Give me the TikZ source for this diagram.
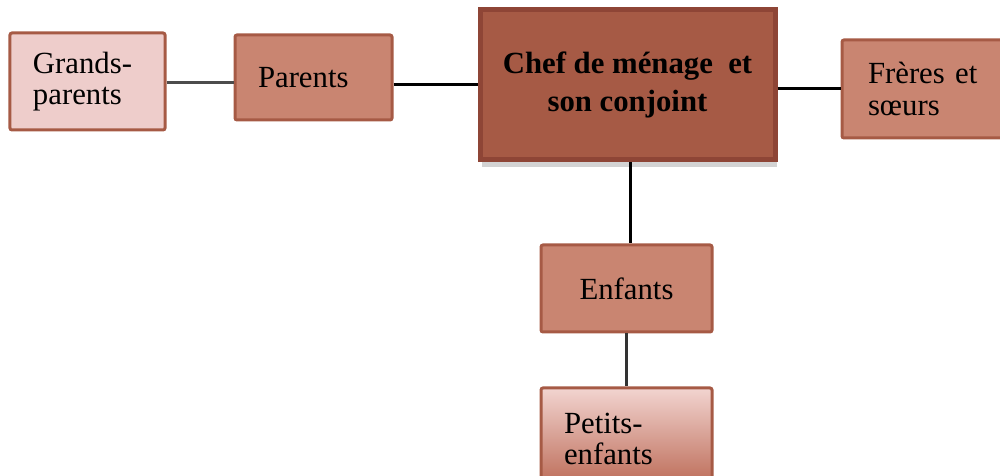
\documentclass[tikz,border=0pt]{standalone}
\usepackage{fontspec}
\setmainfont{Liberation Serif}
\usetikzlibrary{shadows}
\definecolor{brick}{HTML}{A65A45}
\definecolor{brickdark}{HTML}{8E4536}
\definecolor{salmon}{HTML}{C98571}
\definecolor{rose}{HTML}{EECDCB}
\definecolor{roseedge}{HTML}{F2D4D0}
\definecolor{rosedeep}{HTML}{BA6752}
\begin{document}
\begin{tikzpicture}[x=0.2mm,y=-0.2mm,
  box/.style={draw=brick,line width=0.6mm,rounded corners=0.4mm,fill=salmon,
    font=\fontsize{17.5}{18}\selectfont,inner xsep=4.6mm,inner ysep=0pt,align=left},
  link/.style={line width=0.6mm,black}]
\useasboundingbox (0,0) rectangle (1000,476);
\draw (87.5,81.5) node (gp) [box,fill=rose,text width=21.8mm,minimum height=19.4mm] {Grands-\\parents};
\draw (313.5,77.5) node (par) [box,text width=22.2mm,minimum height=17mm] {Parents};
\draw (627.5,85) node (chef) [box,draw=brickdark,line width=1mm,rounded corners=0pt,fill=brick,
  drop shadow={opacity=0.35,shadow xshift=0.4mm,shadow yshift=-1.4mm},
  font=\bfseries\fontsize{17.5}{22}\selectfont,align=center,inner xsep=0pt,minimum width=59mm,minimum height=30mm]
  {Chef de ménage~ et\\son conjoint};
\draw (926,89) node (fr) [box,inner xsep=5.2mm,text width=23.2mm,minimum height=19.6mm] {Frères et\\sœurs};
\draw (626.5,288.5) node (enf) [box,align=center,text width=25mm,minimum height=17.4mm] {Enfants};
\draw (626.5,439) node (pe) [box,top color=roseedge,bottom color=rosedeep,text width=25mm,minimum height=20.4mm] {Petits-\\enfants};
\draw[link,black!70] (gp.east |- 0,83) -- (par.west |- 0,83);
\draw[link] (par.east |- chef.west) -- (chef.west);
\draw[link] (chef.east |- fr.west) -- (fr.west);
\draw[link] (chef.south -| 630,0) -- (enf.north -| 630,0);
\draw[link,black!80] (enf) -- (pe);
\end{tikzpicture}
\end{document}
